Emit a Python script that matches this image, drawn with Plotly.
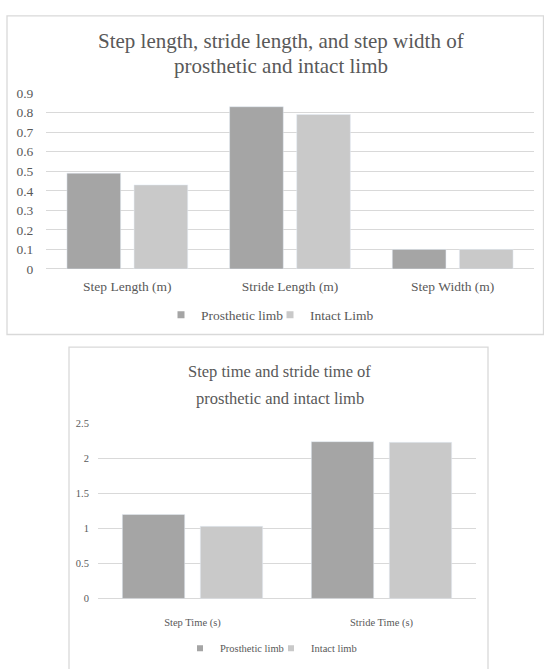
import plotly.graph_objects as go

# ---- data ----
cats_top = ["Step Length (m)", "Stride Length (m)", "Step Width (m)"]
prost_top = [0.49, 0.83, 0.10]
intact_top = [0.43, 0.79, 0.10]

cats_bot = ["Step Time (s)", "Stride Time (s)"]
prost_bot = [1.20, 2.24]
intact_bot = [1.03, 2.23]

title_top = ["Step length, stride length, and step width of", "prosthetic and intact limb"]
title_bot = ["Step time and stride time of", "prosthetic and intact limb"]
legend_top = ["Prosthetic limb", "Intact Limb"]
legend_bot = ["Prosthetic limb", "Intact limb"]

C_PRO = "#A5A5A5"
C_INT = "#C9C9C9"
C_TXT = "#595959"
C_GRID = "#D9D9D9"
FONT = "Liberation Serif"

W, H = 544, 669
def px(x): return x / W
def py(y): return 1 - y / H

fig = go.Figure()

# top chart bars
fig.add_trace(go.Bar(x=cats_top, y=prost_top, name=legend_top[0], marker_color=C_PRO,
                     xaxis="x", yaxis="y", showlegend=False))
fig.add_trace(go.Bar(x=cats_top, y=intact_top, name=legend_top[1], marker_color=C_INT,
                     xaxis="x", yaxis="y", showlegend=False))
# bottom chart bars
fig.add_trace(go.Bar(x=cats_bot, y=prost_bot, name=legend_bot[0], marker_color=C_PRO,
                     xaxis="x2", yaxis="y2", showlegend=False))
fig.add_trace(go.Bar(x=cats_bot, y=intact_bot, name=legend_bot[1], marker_color=C_INT,
                     xaxis="x2", yaxis="y2", showlegend=False))

# legend entries (small square swatches)
for i, (name, col) in enumerate(zip(legend_top, [C_PRO, C_INT])):
    fig.add_trace(go.Scatter(x=[None], y=[None], mode="markers", name=name,
                             marker=dict(symbol="square", size=7, color=col),
                             xaxis="x", yaxis="y", legend="legend",
                             legendwidth=(64 if i == 0 else None)))
for i, (name, col) in enumerate(zip(legend_bot, [C_PRO, C_INT])):
    fig.add_trace(go.Scatter(x=[None], y=[None], mode="markers", name=name,
                             marker=dict(symbol="square", size=6, color=col),
                             xaxis="x2", yaxis="y2", legend="legend2",
                             legendwidth=(46 if i == 0 else None)))

tick_hidden = dict(ticks="outside", tickcolor="rgba(0,0,0,0)")

fig.update_layout(
    width=W, height=H,
    margin=dict(l=0, r=0, t=0, b=0),
    paper_bgcolor="white", plot_bgcolor="white",
    barmode="group", bargap=0.175, bargroupgap=0.2,
    font=dict(family=FONT, color=C_TXT),
    xaxis=dict(domain=[px(46), px(534)], anchor="y", showgrid=False, showline=False,
               tickfont=dict(size=13.5, color=C_TXT), ticklen=5, **tick_hidden,
               fixedrange=True),
    yaxis=dict(domain=[py(268), py(88)], anchor="x", range=[0, 0.9], dtick=0.1,
               showgrid=True, gridcolor=C_GRID, gridwidth=1.3,
               zeroline=True, zerolinecolor=C_GRID, zerolinewidth=1.3, showline=False,
               tickfont=dict(size=13.5, color=C_TXT), ticklen=9, **tick_hidden),
    xaxis2=dict(domain=[px(98), px(476)], anchor="y2", showgrid=False, showline=False,
                tickfont=dict(size=10.5, color=C_TXT), ticklen=14, **tick_hidden),
    yaxis2=dict(domain=[py(605), py(426)], anchor="x2", range=[0, 2.5], dtick=0.5,
                showgrid=True, gridcolor=C_GRID, gridwidth=1.3,
                zeroline=True, zerolinecolor=C_GRID, zerolinewidth=1.3, showline=False,
                tickfont=dict(size=10.5, color=C_TXT), ticklen=6, **tick_hidden),
    legend=dict(orientation="h", x=px(161), xanchor="left", y=py(315), yanchor="middle",
                font=dict(size=13.5, color=C_TXT), bgcolor="rgba(0,0,0,0)"),
    legend2=dict(orientation="h", x=px(180), xanchor="left", y=py(656), yanchor="middle",
                 font=dict(size=10.5, color=C_TXT), bgcolor="rgba(0,0,0,0)"),
    shapes=[
        dict(type="rect", xref="paper", yref="paper", x0=px(7), x1=px(543.5), y0=py(335), y1=py(9),
             line=dict(color=C_GRID, width=1.3), fillcolor="rgba(0,0,0,0)", layer="below"),
        dict(type="rect", xref="paper", yref="paper", x0=px(69), x1=px(488), y0=py(700), y1=py(348),
             line=dict(color=C_GRID, width=1.3), fillcolor="rgba(0,0,0,0)", layer="below"),
    ],
)

# titles
for line, yc in zip(title_top, [35, 60]):
    fig.add_annotation(text=line, x=px(281), y=py(yc), xref="paper", yref="paper",
                       xanchor="center", yanchor="middle", showarrow=False,
                       font=dict(family=FONT, size=21, color=C_TXT))
for line, yc in zip(title_bot, [373, 400]):
    fig.add_annotation(text=line, x=px(279.5), y=py(yc), xref="paper", yref="paper",
                       xanchor="center", yanchor="middle", showarrow=False,
                       font=dict(family=FONT, size=16.5, color=C_TXT))

fig.write_html("out.html")
